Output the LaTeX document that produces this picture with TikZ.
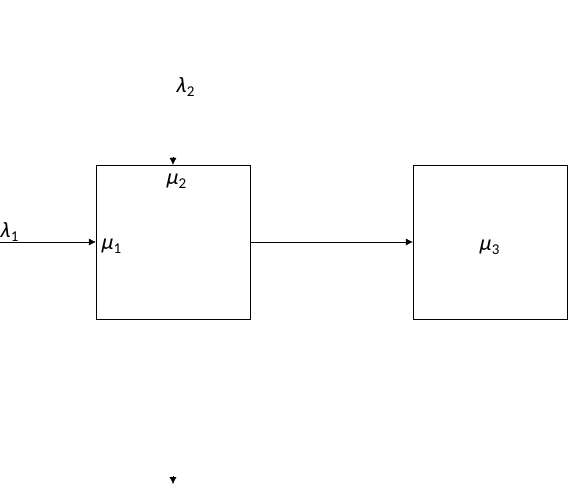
\documentclass[tikz,border=0pt]{standalone}
\usepackage{fontspec}
\setmainfont{Carlito}
\newfontfamily\greekfont{Carlito}[FakeSlant=0.22]
\usetikzlibrary{arrows.meta}
\newcommand{\qsym}[2]{{\greekfont #1}\kern1pt\raisebox{-0.35ex}{\fontsize{15}{17}\selectfont #2}}

\begin{document}
\begin{tikzpicture}[x=1pt, y=-1pt,
                    box_style/.style={draw, minimum size=154pt, inner sep=0pt},
                    label_style/.style={font=\fontsize{22}{26}\selectfont, inner sep=0pt},
                    edge_style/.style={-{Latex[length=7pt,width=7pt]}, draw=black}
   ]
   \useasboundingbox (0,0) rectangle (568,484);
   % Queues
   \node[box_style] (q1) at (173,242) {};
   \node[box_style] (q3) at (490,242) {};
   % Rates
   \node[label_style] (l1) at (9,232) {\qsym{λ}{1}};
   \node[label_style] (l2) at (185,87) {\qsym{λ}{2}};
   \node[label_style] (m1) at (111,246) {\qsym{μ}{1}};
   \node[label_style] (m2) at (176,181) {\qsym{μ}{2}};
   \node[label_style] (m3) at (489,247) {\qsym{μ}{3}};
   % Arrival points
   \coordinate (in1) at (0,242);
   \coordinate (in2) at (173,157);
   \coordinate (out1) at (173,476);
   \coordinate (out2) at (173,484);

    \draw[edge_style]  (in1) -- (q1.west);
    \draw[edge_style]  (q1.east) -- (q3.west);
    \draw[edge_style]  (in2) -- (q1.north);
    \draw[edge_style]  (out1) -- (out2);
    \end{tikzpicture}
\end{document}
